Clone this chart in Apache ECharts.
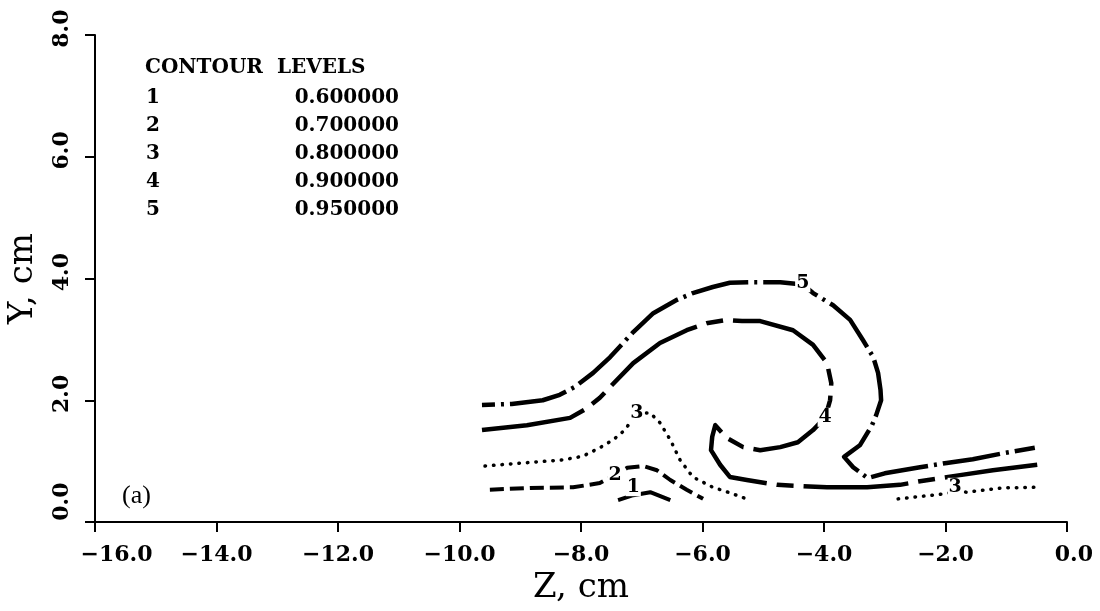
<!DOCTYPE html>
<html>
<head>
<meta charset="utf-8">
<script src="https://cdn.jsdelivr.net/npm/echarts@6/dist/echarts.min.js"></script>
<style>
  html, body { margin: 0; padding: 0; background: #fff; }
  #chart { width: 1100px; height: 611px; }
</style>
</head>
<body>
<div id="chart"></div>
<script>
// Contour traces, [Z cm, Y cm]
const contour1 = [[-7.39, 0.36], [-7.14, 0.44], [-6.86, 0.49], [-6.53, 0.36]];

const contour2 = [[-9.50, 0.53], [-8.84, 0.56], [-8.13, 0.57], [-7.69, 0.64], [-7.44, 0.77],
  [-7.24, 0.89], [-6.98, 0.92], [-6.75, 0.85], [-6.53, 0.69], [-6.26, 0.53], [-5.99, 0.38]];

const contour3a = [[-9.58, 0.92], [-8.95, 0.97], [-8.30, 1.02], [-7.97, 1.08], [-7.69, 1.22],
  [-7.47, 1.35], [-7.28, 1.51], [-7.08, 1.79], [-6.86, 1.79], [-6.70, 1.63], [-6.53, 1.35],
  [-6.37, 1.02], [-6.16, 0.74], [-5.83, 0.57], [-5.55, 0.48], [-5.22, 0.36]];

const contour3b = [[-2.78, 0.38], [-2.04, 0.46], [-1.84, 0.50], [-1.65, 0.49], [-1.05, 0.56], [-0.49, 0.57]];

const contour4 = [[-9.63, 1.51], [-8.89, 1.59], [-8.18, 1.71], [-7.90, 1.87], [-7.69, 2.04],
  [-7.49, 2.25], [-7.14, 2.61], [-6.70, 2.94], [-6.26, 3.15], [-5.91, 3.27], [-5.60, 3.32],
  [-5.35, 3.30], [-5.05, 3.30], [-4.51, 3.15], [-4.18, 2.91], [-3.95, 2.61], [-3.88, 2.28],
  [-3.90, 2.00], [-3.98, 1.72], [-4.18, 1.51], [-4.43, 1.31], [-4.72, 1.23], [-5.05, 1.18],
  [-5.33, 1.23], [-5.60, 1.38], [-5.79, 1.59], [-5.84, 1.40], [-5.86, 1.18], [-5.71, 0.94],
  [-5.55, 0.74], [-5.27, 0.69], [-4.77, 0.61], [-3.95, 0.57], [-3.29, 0.57], [-2.75, 0.61],
  [-2.42, 0.67], [-1.76, 0.77], [-1.22, 0.85], [-0.49, 0.94]];

const contour5 = [[-9.63, 1.92], [-9.14, 1.94], [-8.63, 2.00], [-8.35, 2.09], [-8.10, 2.22],
  [-7.80, 2.45], [-7.52, 2.71], [-7.14, 3.12], [-6.81, 3.43], [-6.42, 3.65], [-6.16, 3.76],
  [-5.83, 3.86], [-5.55, 3.93], [-5.17, 3.94], [-4.72, 3.94], [-4.35, 3.90], [-4.18, 3.76],
  [-3.85, 3.56], [-3.57, 3.32], [-3.36, 2.99], [-3.19, 2.71], [-3.11, 2.45], [-3.07, 2.17],
  [-3.06, 2.00], [-3.14, 1.76], [-3.21, 1.59], [-3.41, 1.26], [-3.67, 1.07], [-3.52, 0.90],
  [-3.28, 0.72], [-3.00, 0.80], [-2.42, 0.90], [-1.98, 0.97], [-1.55, 1.03], [-1.05, 1.13],
  [-0.53, 1.22]];

// Level tags written along the contours
const contourTags = [
  { name: '1', value: [-7.14, 0.58] },
  { name: '2', value: [-7.44, 0.77] },
  { name: '3', value: [-7.08, 1.79] },
  { name: '3', value: [-1.84, 0.57] },
  { name: '4', value: [-3.98, 1.72] },
  { name: '5', value: [-4.35, 3.93] }
];

// Contour level table
const levelIds = ['1', '2', '3', '4', '5'];
const levelValues = [0.6, 0.7, 0.8, 0.9, 0.95];

// Axis ranges
const zTicks = { min: -16, max: 0, step: 2 };
const yTicks = { min: 0, max: 8, step: 2 };

const serif = '"DejaVu Serif", "Liberation Serif", serif';
const tickFont = { fontFamily: serif, fontWeight: 'bold', fontSize: 22, color: '#000' };

function fmt(v) {
  return (v < 0 ? '\u2212' : '') + Math.abs(v).toFixed(1);
}

function contourSeries(name, data, width, type, cap, offset) {
  return {
    name: name,
    type: 'line',
    data: data,
    showSymbol: false,
    symbol: 'none',
    smooth: false,
    silent: true,
    lineStyle: {
      color: '#000', width: width, type: type,
      cap: cap || 'butt', join: 'round', dashOffset: offset || 0
    },
    z: 3
  };
}

const tableFont = 'bold 20px ' + serif;
const tableGraphics = [{
  type: 'text', x: 145, y: 68,
  style: { text: 'CONTOUR  LEVELS', font: tableFont, fill: '#000', verticalAlign: 'middle', align: 'left' }
}];
levelIds.forEach(function (id, i) {
  const y = 98 + i * 28;
  tableGraphics.push({
    type: 'text', x: 146, y: y,
    style: { text: id, font: tableFont, fill: '#000', verticalAlign: 'middle', align: 'left' }
  });
  tableGraphics.push({
    type: 'text', x: 399, y: y,
    style: { text: levelValues[i].toFixed(6), font: tableFont, fill: '#000', verticalAlign: 'middle', align: 'right' }
  });
});
tableGraphics.push({
  type: 'text', x: 122, y: 496,
  style: { text: '(a)', font: '26px "Liberation Serif", serif', fill: '#000', verticalAlign: 'middle', align: 'left' }
});

const chart = echarts.init(document.getElementById('chart'), null, { renderer: 'canvas' });

chart.setOption({
  backgroundColor: '#fff',
  animation: false,
  grid: { left: 95, right: 33, top: 35, bottom: 89, containLabel: false, outerBoundsMode: 'none' },
  xAxis: {
    type: 'value',
    min: zTicks.min, max: zTicks.max, interval: zTicks.step,
    name: 'Z, cm',
    nameLocation: 'middle',
    nameGap: 49,
    nameMoveOverlap: false,
    nameTextStyle: { fontFamily: serif, fontSize: 34, color: '#000' },
    axisLine: { show: true, onZero: false, lineStyle: { color: '#000', width: 2 } },
    axisTick: { show: true, inside: false, length: 10, lineStyle: { color: '#000', width: 2 } },
    splitLine: { show: false },
    axisLabel: Object.assign({
      margin: 22,
      formatter: function (v) {
        if (v === zTicks.min) return '{first|' + fmt(v) + '}';
        if (v === zTicks.max) return '{last|' + fmt(v) + '}';
        return fmt(v);
      },
      rich: {
        first: Object.assign({ width: 115, align: 'right' }, tickFont),
        last: Object.assign({ width: 52, align: 'right' }, tickFont)
      }
    }, tickFont)
  },
  yAxis: {
    type: 'value',
    min: yTicks.min, max: yTicks.max, interval: yTicks.step,
    name: 'Y, cm',
    nameLocation: 'middle',
    nameGap: 55,
    nameMoveOverlap: false,
    nameTextStyle: { fontFamily: serif, fontSize: 34, color: '#000' },
    axisLine: { show: true, onZero: false, lineStyle: { color: '#000', width: 2 } },
    axisTick: { show: true, inside: false, length: 10, lineStyle: { color: '#000', width: 2 } },
    splitLine: { show: false },
    axisLabel: Object.assign({
      rotate: 90,
      margin: 22,
      formatter: function (v) {
        return (v === yTicks.min ? '{base|' : '{tick|') + fmt(v) + '}';
      },
      rich: {
        base: Object.assign({ width: 79, align: 'right' }, tickFont),
        tick: Object.assign({ width: 51, align: 'right' }, tickFont)
      }
    }, tickFont)
  },
  graphic: tableGraphics,
  series: [
    contourSeries('1', contour1, 4, 'solid'),
    contourSeries('2', contour2, 4, [14, 6]),
    contourSeries('3', contour3a, 3.5, [0.5, 8], 'round'),
    contourSeries('3', contour3b, 3.5, [0.5, 8], 'round'),
    contourSeries('4', contour4, 4.5, [105, 10, 17, 10]),
    contourSeries('5', contour5, 4.5, [58, 6, 3, 6], 'butt', 45),
    {
      name: 'tags',
      type: 'scatter',
      data: contourTags,
      symbolSize: 0,
      silent: true,
      itemStyle: { color: '#000', opacity: 1 },
      z: 5,
      label: {
        show: true,
        position: 'inside',
        formatter: '{b}',
        fontFamily: serif,
        fontWeight: 'bold',
        fontSize: 19,
        color: '#000',
        opacity: 1,
        textBorderWidth: 0,
        textBorderColor: 'transparent',
        backgroundColor: '#fff',
        padding: [0, 1]
      }
    }
  ]
});
</script>
</body>
</html>
